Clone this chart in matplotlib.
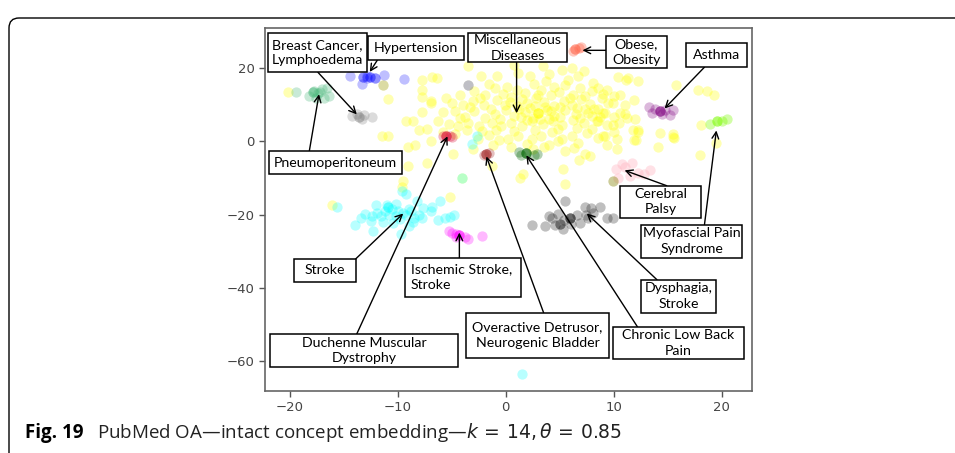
import matplotlib
matplotlib.use("Agg")
import matplotlib.pyplot as plt
from matplotlib.patches import Rectangle, FancyBboxPatch
from matplotlib.transforms import IdentityTransform
import numpy as np

# --- cluster points (t-SNE style coords) ---
yellow_pts = [
    (-3.5, 20.6), (0.8, 20.8), (3.4, 20.5), (5.2, 19.5), (6.1, 20.0), (-0.8, 17.8), (2.2, 17.8), (6.7, 17.8), (4.0, 18.5),
    (-6.8, 17.5), (-7.8, 16.7), (-6.4, 17.3), (-7.8, 14.0), (-7.8, 12.2), (-10.9, 11.5), (-11.4, 15.3), (-20.2, 13.4),
    (10.4, 17.5), (11.3, 17.3), (11.1, 16.8), (12.2, 16.4), (15.8, 15.3), (17.8, 14.0), (18.6, 13.7), (19.3, 12.6),
    (-3.5, 15.3), (-2.9, 13.7), (-1.9, 12.6), (0.1, 15.0), (1.0, 14.0), (1.8, 13.2), (3.3, 14.0), (4.5, 15.0),
    (5.5, 15.3), (6.9, 14.5), (8.0, 13.8), (9.0, 12.9), (10.0, 12.4), (2.6, 15.8), (-1.0, 14.5),
    (-5.5, 12.0), (-6.9, 11.0), (-4.2, 12.8),
    (-0.8, 11.2), (-0.1, 9.9), (1.0, 9.6), (2.0, 10.4), (3.5, 10.8), (4.5, 9.8), (5.4, 11.0), (6.1, 10.0), (7.0, 11.5),
    (7.8, 10.2), (8.5, 9.0), (9.5, 10.5), (11.0, 9.9), (11.9, 11.2), (-3.0, 11.0), (-2.0, 10.0), (-4.0, 10.0),
    (-6.9, 10.4), (0.5, 12.2), (2.8, 12.0), (4.2, 12.6), (6.2, 12.8),
    (-4.7, 8.2), (-3.8, 6.8), (-2.9, 8.2), (-1.9, 6.3), (-1.0, 7.5), (0.0, 8.5), (0.8, 7.0), (1.8, 8.0), (2.5, 6.5),
    (3.0, 7.7), (3.0, 7.7), (3.0, 7.7), (3.8, 8.6), (4.5, 7.0), (5.5, 8.5), (6.5, 7.5), (7.3, 8.8), (8.0, 7.0),
    (9.0, 7.8), (10.0, 6.8), (11.0, 7.5), (-5.8, 8.0), (-7.8, 8.0), (1.2, 8.8), (2.2, 9.2), (3.6, 9.4), (4.0, 6.2), (2.0, 5.8),
    (-6.3, 5.5), (-5.3, 4.8), (-4.4, 4.2), (-3.5, 5.0), (-2.5, 4.2), (-1.3, 5.0), (-0.4, 4.2), (0.5, 5.0), (1.5, 4.2),
    (2.4, 5.5), (3.4, 4.8), (4.4, 5.5), (5.2, 4.5), (6.2, 5.8), (7.2, 5.0), (8.4, 5.5), (9.4, 4.6), (10.5, 5.0), (12.0, 6.0),
    (-9.2, 5.5), (-8.6, 5.5), (-8.0, 3.0), (-7.3, 3.5), (-11.5, 1.6), (-10.9, 1.6),
    (-6.9, 0.0), (-5.8, 2.5), (-4.7, 2.0), (-3.6, 3.0), (-2.6, 0.8), (-1.6, 1.8), (-0.6, 0.5), (0.2, 0.8), (1.1, 1.6),
    (2.4, 0.8), (3.3, 1.6), (4.3, 2.5), (5.2, 0.8), (6.1, 1.6), (6.7, -0.5), (7.5, 2.2), (8.5, 1.0), (9.2, 1.4),
    (10.0, 2.5), (11.8, 3.0), (12.2, 3.2),
    (14.3, 2.2), (15.5, 1.9), (15.6, 1.0), (18.1, 4.4), (19.5, -0.3), (18.0, -3.8), (14.1, -1.6), (10.3, -2.0), (12.1, 0.3),
    (-3.0, -2.0), (0.5, -1.5), (2.5, -2.0), (4.0, -1.0), (5.5, -2.5), (7.3, -3.3), (7.8, -4.0), (5.3, -7.4), (6.8, -5.0),
    (1.3, -9.9), (1.6, -8.8), (5.5, -11.5), (3.5, -1.5), (4.8, 0.2), (-1.3, -6.8),
    (-7.3, -6.0), (-9.1, -1.6), (-8.4, -1.0), (-9.1, -6.6), (-4.9, -3.3), (-4.1, -10.0), (-9.5, -10.7),
    (-5.2, -15.3), (-16.1, -17.3), (-9.6, -12.4),
    (8.5, 14.5), (9.4, 14.0), (8.9, 11.8), (10.6, 12.6), (9.9, 10.4), (8.2, 9.0), (9.2, 7.7), (10.6, 7.7), (11.2, 6.3),
    (8.5, 5.5), (9.9, 4.4), (9.0, 1.6), (10.3, 0.8), (12.2, 2.7), (11.9, 0.3), (9.4, -1.1), (15.5, 1.3),
    # extra fill of the dense core
    (-0.3, 13.0), (1.5, 11.5), (3.0, 12.8), (4.9, 13.5), (5.9, 11.8), (7.3, 12.5), (-2.4, 11.8), (-1.4, 8.8),
    (0.4, 10.8), (2.7, 9.6), (4.2, 8.2), (5.0, 9.4), (6.6, 9.2), (7.6, 7.8), (-3.3, 9.4), (-0.5, 6.2), (1.4, 6.6),
    (3.2, 6.0), (5.0, 6.6), (6.9, 6.3), (8.7, 6.6), (-2.2, 2.8), (-0.9, 3.0), (0.8, 2.9), (2.7, 3.2), (4.8, 3.4),
    (6.6, 3.6), (8.0, 3.4), (-4.2, 6.4), (-5.0, 10.4), (-1.6, 15.8), (3.7, 16.5), (5.8, 16.9), (8.1, 16.0),
    (1.1, 18.6), (-2.3, 18.0), (7.2, 19.2), (2.0, -0.6), (-1.2, -1.0), (6.3, -1.8),
]
teal_pts = [(-17.9, 13.5), (-17.9, 13.5), (-17.4, 13.2), (-17.0, 14.2), (-16.6, 14.5), (-17.6, 12.0), (-18.2, 12.5),
            (-16.4, 12.3), (-17.2, 13.6), (-17.8, 13.9), (-19.4, 13.4), (-16.8, 11.8)]
blue_pts = [(-13.2, 17.5), (-13.2, 17.5), (-12.6, 17.5), (-12.6, 17.5), (-12.1, 17.4), (-12.1, 17.4), (-12.9, 18.0),
            (-12.9, 17.2), (-14.4, 17.8), (-13.3, 15.6), (-11.3, 18.1), (-9.4, 17.0), (-3.5, 15.3)]
gray_pts = [(-14.2, 7.0), (-13.6, 6.6), (-13.1, 7.1), (-12.4, 6.6), (-13.8, 7.4), (-13.3, 6.2), (-13.6, 6.8), (-11.4, 15.3)]
crimson_pts = [(-5.5, 1.6), (-5.5, 1.6), (-5.5, 1.6), (-5.2, 1.4), (-5.8, 1.5), (-5.0, 1.3)]
brown_pts = [(-1.8, -3.5), (-1.8, -3.5), (-1.8, -3.5), (-2.0, -3.8), (-1.6, -3.2)]
dkgreen_pts = [(1.9, -3.2), (1.9, -3.2), (1.9, -3.2), (1.4, -3.6), (2.6, -3.8), (1.2, -3.0), (2.9, -3.5)]
cyan_pts = [
    (-10.5, -18.5), (-10.0, -19.0), (-9.5, -19.5), (-10.8, -20.0), (-10.2, -20.5), (-9.2, -20.0), (-8.8, -19.0),
    (-11.2, -19.0), (-11.6, -20.5), (-9.8, -21.2), (-8.5, -21.0), (-8.0, -20.0), (-10.9, -18.0), (-10.9, -18.0),
    (-9.0, -18.5), (-11.9, -19.5), (-12.4, -20.3), (-13.0, -19.8), (-13.4, -20.8), (-14.0, -22.7), (-12.3, -24.4),
    (-9.7, -25.3), (-9.6, -13.6), (-9.2, -14.4), (-8.2, -16.2), (-10.2, -17.0), (-11.0, -17.3), (-12.0, -17.5),
    (-15.6, -17.8), (-7.7, -18.2), (-7.8, -20.8), (-8.6, -22.0), (-10.4, -22.2), (-11.4, -22.0), (-12.5, -21.8),
    (-9.0, -23.2), (-6.1, -16.4), (-6.8, -18.0), (-6.9, -19.0), (-6.3, -21.4), (-5.6, -20.9), (-5.2, -20.6),
    (-4.8, -20.2), (-4.1, -10.1), (-2.7, 1.4), (-3.1, -0.8), (1.5, -63.6),
]
magenta_pts = [(-5.0, -25.0), (-4.6, -25.3), (-4.3, -25.5), (-4.3, -25.5), (-4.3, -25.5), (-4.6, -26.0),
               (-3.8, -26.2), (-3.5, -26.6), (-2.2, -25.8), (-5.3, -24.5)]
black_pts = [(5.9, -20.8), (5.9, -20.8), (5.9, -20.8), (5.4, -21.5), (5.0, -22.5), (5.0, -22.5), (6.6, -20.2),
             (7.4, -20.0), (5.5, -16.2), (4.3, -21.0), (3.6, -23.2), (2.4, -22.7), (4.6, -22.8), (5.3, -24.0),
             (6.0, -22.6), (6.9, -22.4), (7.3, -18.0), (7.9, -18.2), (8.7, -18.0), (9.4, -20.8), (9.9, -20.8),
             (7.6, -20.8), (8.1, -19.5), (4.8, -19.8), (4.0, -20.5)]
pink_pts = [(10.8, -6.1), (11.7, -6.0), (11.0, -7.0), (10.4, -10.0), (12.2, -8.5), (12.8, -8.8), (13.4, -7.8),
            (11.5, -9.5), (10.2, -7.5)]
olive_pts = [(9.9, -10.9)]
purple_pts = [(14.3, 8.2), (14.3, 8.2), (14.3, 8.2), (13.8, 8.8), (14.7, 8.5), (13.3, 9.3), (15.5, 8.5),
              (15.2, 7.1), (13.5, 7.7), (14.5, 7.5)]
lime_pts = [(19.6, 5.5), (19.6, 5.5), (20.0, 5.6), (18.9, 4.9), (20.5, 6.0)]
tomato_pts = [(6.4, 25.2), (6.4, 25.2), (6.8, 25.4), (7.0, 25.8), (6.2, 24.6)]

clusters = [
    (yellow_pts, "yellow", 0.3), (teal_pts, "mediumseagreen", 0.28), (blue_pts, "blue", 0.25), (gray_pts, "gray", 0.28),
    (crimson_pts, "crimson", 0.3), (brown_pts, "brown", 0.3), (dkgreen_pts, "darkgreen", 0.3), (cyan_pts, "cyan", 0.28),
    (magenta_pts, "magenta", 0.28), (black_pts, "black", 0.25), (pink_pts, "lightpink", 0.4), (olive_pts, "olive", 0.4),
    (purple_pts, "purple", 0.28), (lime_pts, "lawngreen", 0.35), (tomato_pts, "tomato", 0.35),
]

# --- callouts: text, box (x0, x1, y0, y1), arrow start, arrow end ---
labels = ["Breast Cancer,\nLymphoedema", "Hypertension", "Miscellaneous\nDiseases", "Obese,\nObesity", "Asthma",
          "Pneumoperitoneum", "Cerebral\nPalsy", "Myofascial Pain\nSyndrome", "Dysphagia,\nStroke",
          "Chronic Low Back\nPain", "Overactive Detrusor,\nNeurogenic Bladder", "Ischemic Stroke,\nStroke",
          "Stroke", "Duchenne Muscular\nDystrophy"]
boxes = [(-22.0, -12.9, 18.9, 29.6), (-12.8, -3.9, 22.2, 28.8), (-3.5, 5.7, 21.6, 29.6), (9.3, 14.9, 20.0, 28.8),
         (16.7, 22.3, 20.3, 26.8), (-21.9, -9.6, -9.0, -2.7), (10.6, 18.1, -20.8, -12.1), (12.5, 21.9, -31.8, -22.7),
         (12.5, 19.5, -46.8, -37.8), (9.9, 22.1, -59.5, -50.7), (-3.7, 9.6, -59.2, -46.8), (-9.3, 1.4, -42.5, -31.8),
         (-19.6, -13.9, -38.4, -32.1), (-21.8, -4.4, -61.6, -52.6)]
arrow_from = [(-17.4, 18.9), (-11.9, 22.2), (1.0, 21.6), (9.3, 24.9), (18.4, 20.3), (-18.2, -2.7), (14.9, -12.1),
              (18.4, -22.7), (14.0, -37.8), (12.2, -50.7), (3.5, -46.8), (-4.3, -31.8), (-13.9, -32.1), (-13.8, -52.6)]
arrow_to = [(-13.8, 7.4), (-12.6, 19.0), (1.0, 7.7), (7.1, 24.9), (14.7, 9.0), (-17.3, 12.9), (11.0, -7.9),
            (19.5, 3.0), (7.5, -19.7), (1.9, -3.8), (-1.8, -4.1), (-4.3, -24.9), (-9.5, -19.7), (-5.4, 1.4)]

W, H = 955, 453
fig = plt.figure(figsize=(W / 100, H / 100), dpi=100)
ax = fig.add_axes([265 / W, 1 - 391 / H, (752 - 265) / W, (391 - 28) / H])

for pts, col, a in clusters:
    arr = np.array(pts)
    ax.scatter(arr[:, 0], arr[:, 1], s=55, color=col, alpha=a, linewidths=0, zorder=2)

ax.set_xlim(-22.3, 22.8)
ax.set_ylim(-68.2, 31)
ax.set_xticks([-20, -10, 0, 10, 20])
ax.set_yticks([-60, -40, -20, 0, 20])
ax.tick_params(direction="out", length=4, width=1, color="#555555", labelcolor="#444444", labelsize=9.5)
for sp in ax.spines.values():
    sp.set_color("#666666")
    sp.set_linewidth(1.2)

box_font = ["Lato", "DejaVu Sans"]
for i, txt in enumerate(labels):
    x0, x1, y0, y1 = boxes[i]
    ax.add_patch(Rectangle((x0, y0), x1 - x0, y1 - y0, facecolor="white", edgecolor="black",
                           lw=1.1, zorder=4, clip_on=False))
    if txt.startswith("Ischemic"):
        ax.text(x0 + 0.5, (y0 + y1) / 2, txt, ha="left", va="center", fontsize=10.2, family=box_font,
                linespacing=1.35, zorder=5)
    else:
        ax.text((x0 + x1) / 2, (y0 + y1) / 2, txt, ha="center", va="center", fontsize=10.2, family=box_font,
                linespacing=1.35, zorder=5)
    ax.annotate("", xy=arrow_to[i], xytext=arrow_from[i],
                arrowprops=dict(arrowstyle="->", color="black", lw=1.0, shrinkA=0, shrinkB=0,
                                mutation_scale=12), zorder=3, annotation_clip=False)

# outer frame with rounded top-left corner
frame = FancyBboxPatch((9, -40), 1000, H - 9 + 40 - 9, boxstyle="round,pad=0,rounding_size=10",
                       transform=IdentityTransform(), facecolor="none", edgecolor="black", lw=1.0)
fig.add_artist(frame)

cap_font = ["Open Sans", "DejaVu Sans"]
fig.text(25 / W, 1 - 433 / H, "Fig. 19", fontsize=13.5, fontweight="bold", family=cap_font, va="center")
fig.text(97 / W, 1 - 433 / H, r"PubMed OA—intact concept embedding—$k\,=\,14, \theta\,=\,0.85$",
         fontsize=13.5, family=cap_font, va="center", color="#222222")

fig.savefig("out.png", dpi=100)
